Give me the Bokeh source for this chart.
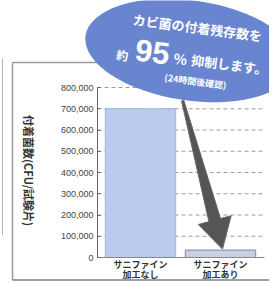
import math
from bokeh.plotting import figure
from bokeh.models import Range1d, LinearAxis, FixedTicker, NumeralTickFormatter
from bokeh.core.properties import value
from bokeh.embed import file_html
from bokeh.resources import INLINE

# ---- data ----
categories = ["サニファイン\n加工なし", "サニファイン\n加工あり"]
values = [700000, 35000]
y_ticks = [0, 100000, 200000, 300000, 400000, 500000, 600000, 700000, 800000]
grid_ticks = [100000, 200000, 300000, 400000, 500000, 600000, 700000, 800000]
y_label = "付着菌数(CFU/試験片)"
bubble_line1 = "カビ菌の付着残存数を"
bubble_pre = "約"
bubble_num = "95"
bubble_pct = "%"
bubble_post = "抑制します。"
bubble_note = "(24時間後確認)"

# ---- layout (picture pixel anchors) ----
W, H = 269, 281
Y0_PX = 257      # y of value 0
YTOP_PX = 87     # y of 800,000
X0_PX = 140      # x of first category
DX_PX = 80       # px between categories
YMAX = 800000

ppu_y = (Y0_PX - YTOP_PX) / YMAX
y_start = -(H - Y0_PX) / ppu_y
y_end = Y0_PX / ppu_y
x_start = -X0_PX / DX_PX
x_end = (W - X0_PX) / DX_PX


def X(px):
    return (px - X0_PX) / DX_PX


def Y(py):
    return (Y0_PX - py) / ppu_y


def PX(x):
    return X0_PX + x * DX_PX


def PY(y):
    return Y0_PX - y * ppu_y


p = figure(width=W, height=H, x_range=Range1d(x_start, x_end), y_range=Range1d(y_start, y_end),
           x_axis_type=None, y_axis_type=None, toolbar_location=None, output_backend="svg",
           min_border=0, min_border_left=0, min_border_right=0, min_border_top=0, min_border_bottom=0)
p.outline_line_color = None
p.background_fill_color = "white"
p.border_fill_color = "white"

AXIS_PX = 97
RIGHT_PX = 264
FONT = value("Noto Sans CJK JP")

# outer frame box
p.line(x=[X(12), X(12)], y=[Y(62), Y(279.5)], line_color="#9a9a9a", line_width=1.5)
p.line(x=[X(12), X(280)], y=[Y(62), Y(62)], line_color="#9a9a9a", line_width=1.5)
p.line(x=[X(12), X(280)], y=[Y(279.5), Y(279.5)], line_color="#808080", line_width=1.5)
p.line(x=[X(2), X(2)], y=[Y(58), Y(235)], line_color="#b4b4b4", line_width=1)

# dashed grid lines
p.segment(x0=[X(AXIS_PX)] * len(grid_ticks), x1=[X(RIGHT_PX)] * len(grid_ticks),
          y0=grid_ticks, y1=grid_ticks, line_color="#9c9c9c", line_width=1, line_dash="4 3")

# bars
xs = list(range(len(categories)))
p.vbar(x=xs, top=values, bottom=0, width=0.88,
       fill_color=["#b9cbee", "#c8d0e2"], line_color=["#a3b6de", "#7f889c"], line_width=1)

# arrow from bar 1 top toward bar 2 top
sx, sy = PX(0) + 0.88 * DX_PX / 2 + 7, PY(values[0]) - 8
tx, ty = PX(1) + 2, PY(values[1]) - 1
dx, dy = tx - sx, ty - sy
L = math.hypot(dx, dy)
ux, uy = dx / L, dy / L
nx, ny = -uy, ux
head_len, head_w, shaft_w0, shaft_w1 = 30, 17, 1.2, 6
bx, by = tx - ux * head_len, ty - uy * head_len
pts = [
    (sx + nx * shaft_w0, sy + ny * shaft_w0),
    (bx + nx * shaft_w1, by + ny * shaft_w1),
    (bx + nx * head_w, by + ny * head_w),
    (tx, ty),
    (bx - nx * head_w, by - ny * head_w),
    (bx - nx * shaft_w1, by - ny * shaft_w1),
    (sx - nx * shaft_w0, sy - ny * shaft_w0),
]
p.patch(x=[X(a) for a, b in pts], y=[Y(b) for a, b in pts], fill_color="#555555",
        line_color="#666666", line_width=1)

# bubble ellipse
p.ellipse(x=[X(190)], y=[Y(50)], width=[212], height=[100], width_units="screen",
          height_units="screen", angle=-0.14, fill_color="#6a85cf", line_color=None)

ang = -0.13
p.text(x=[X(197)], y=[Y(27)], text=[bubble_line1], angle=ang, text_font=FONT,
       text_font_style="bold", text_font_size="13px", text_color="white",
       text_align="center", text_baseline="middle")
p.text(x=[X(122)], y=[Y(54)], text=[bubble_pre], angle=ang, text_font=FONT,
       text_font_style="bold", text_font_size="12px", text_color="white",
       text_align="center", text_baseline="middle")
p.text(x=[X(152)], y=[Y(51)], text=[bubble_num], angle=ang, text_font=value("Liberation Sans"),
       text_font_style="bold", text_font_size="31px", text_color="white",
       text_align="center", text_baseline="middle")
p.text(x=[X(180)], y=[Y(58)], text=[bubble_pct], angle=ang, text_font=FONT,
       text_font_style="bold", text_font_size="14px", text_color="white",
       text_align="center", text_baseline="middle")
p.text(x=[X(229)], y=[Y(64)], text=[bubble_post], angle=ang, text_font=FONT,
       text_font_style="bold", text_font_size="13px", text_color="white",
       text_align="center", text_baseline="middle")
p.text(x=[X(195)], y=[Y(81)], text=[bubble_note], angle=ang, text_font=FONT,
       text_font_style="bold", text_font_size="9px", text_color="white",
       text_align="center", text_baseline="middle")

# y axis label (reads top to bottom)
p.text(x=[X(28)], y=[Y(170)], text=[y_label], angle=-math.pi / 2, text_font=FONT,
       text_font_style="bold", text_font_size="11px", text_color="#333333",
       text_align="center", text_baseline="middle")

# category labels (two lines each) under the bars
line1 = [c.split("\n")[0] for c in categories]
line2 = [c.split("\n")[1] for c in categories]
p.text(x=xs, y=[Y(264)] * len(xs), text=line1, text_font=FONT, text_font_style="bold",
       text_font_size="9px", text_color="#333333", text_align="center", text_baseline="middle")
p.text(x=xs, y=[Y(274)] * len(xs), text=line2, text_font=FONT, text_font_style="bold",
       text_font_size="9px", text_color="#333333", text_align="center", text_baseline="middle")

# axes
yax = LinearAxis(fixed_location=X(AXIS_PX), bounds=(0, YMAX), ticker=FixedTicker(ticks=y_ticks),
                 formatter=NumeralTickFormatter(format="0,0"))
yax.axis_line_color = "#666666"
yax.major_tick_line_color = "#666666"
yax.major_tick_in = 3
yax.major_tick_out = 0
yax.minor_tick_line_color = None
yax.major_label_standoff = 4
yax.major_label_text_font = "Liberation Sans"
yax.major_label_text_font_size = "9px"
yax.major_label_text_color = "#444444"
p.add_layout(yax, "left")

xax = LinearAxis(fixed_location=0, bounds=(X(AXIS_PX), X(RIGHT_PX)), ticker=FixedTicker(ticks=[]))
xax.axis_line_color = "#888888"
xax.major_tick_line_color = None
xax.minor_tick_line_color = None
xax.major_label_text_font_size = "0px"
p.add_layout(xax, "below")

open("out.html", "w").write(file_html(p, INLINE))
